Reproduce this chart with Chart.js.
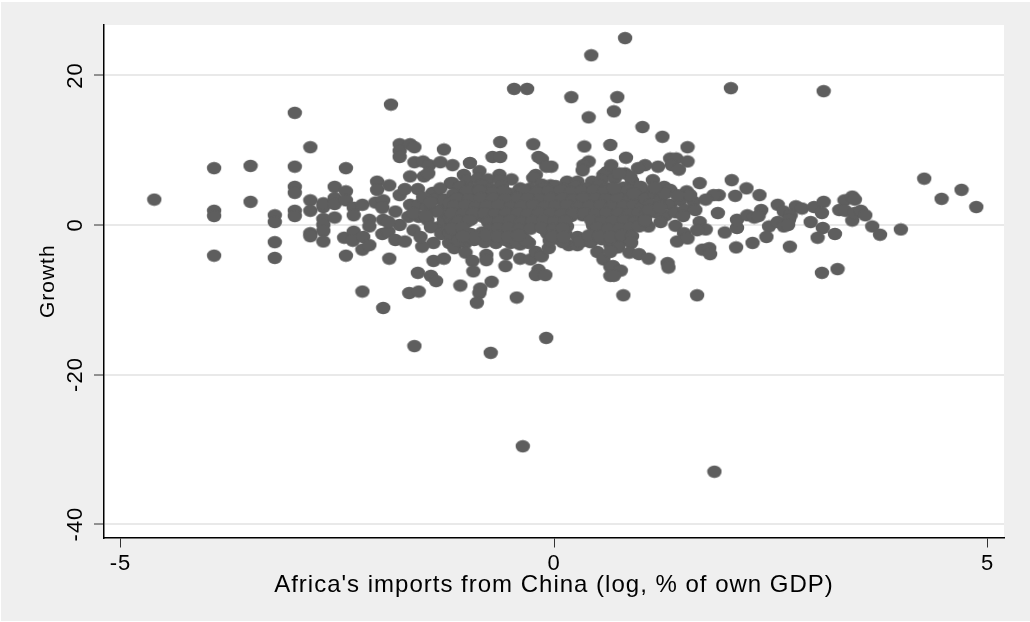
<!DOCTYPE html>
<html>
<head>
<meta charset="utf-8">
<script src="https://cdn.jsdelivr.net/npm/chart.js@4"></script>
<style>html,body{margin:0;padding:0;background:#fff}canvas{display:block}</style>
</head>
<body>
<canvas id="c" width="1030" height="622"></canvas>
<script>
const xTickValues = [-5, 0, 5];
const yTickValues = [-40, -20, 0, 20];
const xTitle = "Africa's imports from China (log, % of own GDP)";
const yTitle = "Growth";

const outliers = [[-4.61,3.4],[-0.46,18.2],[-0.31,18.2],[0.43,22.7],[0.82,25],[0.2,17.1],[0.73,17.1],[0.4,14.4],[0.69,15.2],[1.02,13.1],[1.25,11.8],[1.54,10.4],[2.04,18.3],[3.11,17.9],[-1.88,16.1],[-1.61,-16.2],[-0.09,-15.1],[-0.73,-17.1],[-0.36,-29.6],[1.85,-33],[4.0,-0.6],[4.27,6.2],[4.47,3.5],[4.7,4.7],[4.87,2.4],[0.8,-9.4],[1.65,-9.4]];

const leftCluster = [[-3.92,7.6],[-3.92,1.9],[-3.92,1.2],[-3.92,-4.1],[-3.5,7.9],[-3.5,3.1],[-3.22,1.3],[-3.22,0.4],[-3.22,-2.3],[-3.22,-4.4],[-2.99,15],[-2.99,7.8],[-2.99,5.1],[-2.99,4.3],[-2.99,1.9],[-2.99,1.2],[-2.81,10.4],[-2.81,3.3],[-2.81,1.9],[-2.81,-1.1],[-2.81,-1.5],[-2.66,2.4],[-2.66,2.9],[-2.66,0.8],[-2.66,0],[-2.66,-0.8],[-2.66,-2.2],[-2.53,5.1],[-2.53,3.6],[-2.53,2.8],[-2.53,1],[-2.4,7.6],[-2.4,4.5],[-2.4,3.3],[-2.4,-4.1],[-2.42,-1.7],[-2.31,2.3],[-2.31,1.3],[-2.31,-0.9],[-2.32,-2.1],[-2.21,2.7],[-2.21,-3.3],[-2.2,-1.6],[-2.13,-2.7],[-2.21,-8.9],[-2.13,0.7],[-2.13,-0.2],[-2.06,3],[-1.97,3.3],[-2.04,5.8],[-2.04,4.7],[-1.9,5.3],[-1.98,2.3],[-1.98,-1.2],[-1.91,-0.9],[-1.9,-4.5],[-1.83,1.8],[-1.83,-2],[-1.72,-2.2],[-1.78,0],[-1.97,0.7],[-1.91,0.4]];

const innerLeft = [[-1.78,10.8],[-1.78,9.9],[-1.78,9.1],[-1.66,10.8],[-1.61,10.4],[-1.61,8.4],[-1.51,8.5],[-1.44,8],[-1.31,8.4],[-1.27,10.1],[-1.66,6.5],[-1.5,6.5],[-1.45,6.9],[-1.78,4],[-1.72,4.8],[-1.57,4.8],[-1.66,2.7],[-1.67,-9.1],[-1.56,-8.9],[-1.97,-11.1],[-1.57,-6.4],[-1.42,-6.8],[-1.36,-7.5],[-1.39,-4.8],[-1.27,-4.5],[-1.39,-2.4],[-1.52,-2.9],[-1.21,-2.4],[-1.56,2.7],[-1.46,2.4],[-1.56,1.1],[-1.62,-0.7],[-1.54,-1.6],[-1.46,0.7],[-1.68,1.1],[-1.62,1.6],[-1.4,4.3],[-1.34,3.6],[-1.51,3.7],[-1.33,-0.3],[-1.42,-0.3],[-1.27,0.7],[-1.27,2.4],[-1.19,5.6],[-1.31,4.9],[-1.23,1.6],[-1.36,1.8],[-1.3,-1.2],[-1.22,-0.6],[-1.42,3],[-1.26,3.4],[-1.48,1.3]];

const centreTop = [[-0.97,8.3],[-0.86,7.2],[-1.04,6.7],[-1.17,8],[-1.17,5.6],[-0.62,11.1],[-0.71,9.1],[-0.62,9.1],[-0.24,10.8],[-0.18,9.1],[-0.14,8.8],[-0.03,7.8],[-0.09,7.8],[-0.21,6.7],[-0.24,6.3],[-0.63,6.7],[-0.49,6.1],[0.35,10.5],[0.4,8.5],[0.34,8],[0.33,7.3],[0.65,10.7],[-0.39,4.9],[-0.27,4.9],[-0.04,5.3],[0.15,5.8],[0.27,5.8],[0.44,5.8],[0.57,6.7],[0.61,7.1],[-1,5.9],[-0.88,6.2],[-0.76,6.1],[-0.62,5.9],[0.55,6],[0.7,6.2],[0.9,5.9],[-0.42,4.4],[-0.52,4.2],[-0.14,5.4]];

const centreBottom = [[-1.15,-3.1],[-1.02,-2.4],[-1.02,-3.7],[-0.94,-4.8],[-0.78,-4],[-0.78,-4.7],[-0.93,-6.2],[-0.55,-3.9],[-0.56,-5.5],[-0.67,-2.4],[-0.39,-4.5],[-0.27,-4.6],[-0.21,-3.6],[-0.14,-4.2],[-0.29,-2.4],[-0.18,-6],[-0.21,-6.7],[-0.1,-6.7],[-0.72,-7.6],[-1.08,-8.1],[-0.85,-8.5],[-0.86,-9.1],[-0.89,-10.4],[-0.43,-9.7],[-0.06,-3.1],[0.17,-2.7],[0.04,-1.8],[0.5,-3.6],[0.57,-4.6],[0.65,-5.6],[0.65,-6.8],[0.27,-1.6],[0.34,-2.1],[0.44,-1.7],[0.65,-2.7],[0.27,-2.7],[0.42,-2.3],[-0.5,-2.4],[-0.39,-2.6]];

const coreUpper = [[-1.08,5.1],[-0.96,4.9],[-0.84,5.3],[-0.72,4.8],[-0.6,5.2],[-0.12,4.9],[0.02,5.2],[0.12,4.8],[0.25,5.1],[0.36,4.9],[0.52,5.3],[0.62,4.9],[0.8,5],[0.98,4.7],[-1.16,4.1],[-1.03,3.8],[-0.91,4.2],[-0.77,3.9],[-0.64,4.1],[-0.53,3.7],[-0.38,4],[-0.25,3.7],[-0.13,4.1],[0,3.8],[0.13,4.1],[0.26,3.7],[0.38,4],[0.51,3.8],[0.65,4.2],[0.79,3.9],[0.93,3.6],[-1.2,2.9],[-1.09,3.2],[-0.97,2.8],[-0.85,3.1],[-0.71,2.9],[-0.59,3.2],[-0.46,2.8],[-0.33,3],[-0.2,2.7],[-0.08,3.1],[0.06,2.9],[0.18,3.2],[0.31,2.8],[0.44,3],[0.58,2.7],[0.7,3.1],[0.83,2.8],[0.96,2.9]];

const coreLower = [[-1.13,1.9],[-1.01,2.2],[-0.89,1.8],[-0.76,2.1],[-0.65,1.7],[-0.52,2],[-0.4,1.8],[-0.27,2.1],[-0.14,1.7],[-0.02,2],[0.11,1.8],[0.24,2.1],[0.37,1.7],[0.5,2],[0.63,1.8],[0.76,2],[0.89,1.7],[-1.19,0.9],[-1.06,1.2],[-0.95,0.8],[-0.82,1.1],[-0.69,0.9],[-0.57,1.2],[-0.44,0.8],[-0.31,1],[-0.18,0.8],[-0.05,1.1],[0.08,0.9],[0.2,1.2],[0.33,1.3],[0.46,0.9],[0.59,1.1],[0.72,0.8],[0.85,1],[0.97,1.3],[-1.14,-0.1],[-1.03,0.2],[-0.7,0.1],[-0.58,-0.2],[-0.46,0.1],[-0.33,-0.2],[-0.2,0.1],[-0.07,-0.2],[0.06,0.1],[0.15,-0.2],[0.45,-0.1],[0.58,0.2],[0.71,-0.1],[0.84,0.1],[-1.2,-1.1],[-1.08,-0.8],[-0.96,-1.2],[-0.83,-1],[-0.72,-1.3],[-0.6,-0.9],[-0.48,-1.2],[-0.36,-0.9],[-0.08,-1.1],[0.05,-0.9],[0.13,-1.2],[0.47,-1.1],[0.6,-0.9],[0.72,-1.2],[0.85,-0.9],[-1.1,-2.1],[-0.92,-2],[-0.8,-2.3],[-0.56,-2],[-0.43,-2.3],[-0.33,-2],[-0.05,-2.1],[0.1,-2.3],[0.3,-2.2],[0.43,-2.2],[0.55,-1.9],[0.68,-2.2],[0.8,-2]];

const coreHalfUpper = [[-1,4.5],[-0.86,4.6],[-0.7,4.4],[-0.58,4.5],[-0.34,4.6],[-0.2,4.4],[-0.06,4.5],[0.08,4.6],[0.2,4.4],[0.32,4.5],[0.46,4.6],[0.58,4.4],[0.72,4.5],[0.86,4.6],[1,4.4],[1.12,4.5],[-1.12,3.5],[-0.98,3.4],[-0.84,3.6],[-0.7,3.5],[-0.56,3.4],[-0.42,3.6],[-0.3,3.5],[-0.16,3.4],[-0.04,3.6],[0.1,3.5],[0.22,3.4],[0.34,3.6],[0.48,3.5],[0.6,3.4],[0.74,3.6],[0.88,3.5],[1,3.3],[-1.15,2.5],[-1.02,2.6],[-0.9,2.4],[-0.78,2.5],[-0.64,2.6],[-0.5,2.4],[-0.38,2.5],[-0.24,2.6],[-0.11,2.4],[0.02,2.5],[0.15,2.6],[0.28,2.4],[0.41,2.5],[0.54,2.6],[0.66,2.4],[0.8,2.5],[0.92,2.6],[1.02,2.4]];

const coreHalfLower = [[-1.18,1.5],[-1.05,1.4],[-0.93,1.6],[-0.8,1.5],[-0.68,1.4],[-0.55,1.6],[-0.42,1.5],[-0.3,1.4],[-0.17,1.6],[-0.04,1.5],[0.09,1.4],[0.22,1.6],[0.35,1.5],[0.48,1.4],[0.61,1.6],[0.74,1.5],[0.87,1.4],[0.98,1.6],[-1.1,0.5],[-0.98,0.6],[-0.76,0.4],[-0.63,0.5],[-0.5,0.6],[-0.38,0.4],[-0.25,0.5],[-0.12,0.6],[0.01,0.4],[0.13,0.5],[0.43,0.6],[0.55,0.4],[0.68,0.5],[0.81,0.6],[0.93,0.4],[-1.18,-0.5],[-1.06,-0.4],[-0.74,-0.6],[-0.64,-0.5],[-0.52,-0.4],[-0.4,-0.6],[-0.27,-0.5],[-0.14,-0.4],[-0.01,-0.6],[0.1,-0.5],[0.5,-0.4],[0.63,-0.6],[0.76,-0.5],[0.88,-0.4],[-1.05,-1.5],[-0.9,-1.6],[-0.78,-1.4],[-0.65,-1.5],[-0.53,-1.6],[-0.41,-1.4],[-0.02,-1.5],[0.11,-1.6],[0.4,-1.4],[0.52,-1.5],[0.65,-1.6],[0.78,-1.4],[0.9,-1.5]];

const rightInner = [[0.83,9],[1.34,8.9],[1.41,8.9],[1.54,8.5],[1.36,8],[1.44,7.4],[1.2,7.8],[1.05,8],[0.97,7.6],[0.66,8],[0.82,6.9],[0.88,6.5],[0.75,6.9],[1.14,6],[1,5.1],[1.27,5.1],[1.34,4.7],[1.53,4.5],[1.61,3.1],[0.69,4.9],[0.92,4.2],[1.06,3.5],[1.17,4.1],[1.11,2.7],[1.23,3.3],[1.34,2.7],[1.46,3.3],[1.57,4],[1.06,1.3],[1.17,1.7],[1.29,1.3],[1.4,1.7],[1.51,2],[1.63,2],[1.23,0.4],[1.49,1.2],[1.09,-0.2],[0.98,-0.2],[1.4,-0.1],[0.89,-2.4],[0.74,-3],[0.65,-3.6],[0.87,-3.7],[0.98,-3.9],[1.09,-4.5],[0.68,-5.5],[0.77,-6.1],[0.69,-6.8],[1.31,-5.1],[1.32,-5.7],[1.1,2],[1.22,2.4],[1.28,4.2],[1.42,4],[1.16,5],[1.05,0.6]];

const rightOuter = [[1.68,5.6],[2.05,6],[2.22,4.9],[2.09,3.9],[2.37,4],[1.9,4],[1.84,4],[1.75,3.4],[1.89,1.6],[1.68,0.4],[1.75,-0.6],[1.65,-0.7],[1.5,-1.1],[1.42,-2.2],[1.54,-1.8],[1.97,-1],[2.11,-0.4],[2.11,0.7],[2.23,1.3],[2.31,1],[2.39,2],[2.36,1.2],[2.48,-0.2],[2.45,-1.6],[2.29,-2.4],[2.1,-3],[1.71,-3.3],[1.79,-3.1],[1.8,-3.9],[2.58,0.4],[2.58,2.7],[2.65,1.8],[2.79,2.5],[2.86,2.2],[2.73,1.3],[2.71,0.7],[2.65,-0.2],[2.7,0],[2.72,-2.9],[3,2.4],[3.11,3.1],[3.09,1.6],[2.96,0.4],[3.1,-0.4],[3.24,-1.2],[3.04,-1.7],[3.09,-6.4],[3.27,-5.9],[3.35,3.3],[3.44,3.8],[3.47,3.4],[3.29,2],[3.36,1.9],[3.44,0.6],[3.47,1.6],[3.54,1.9],[3.59,1.3],[3.67,-0.2],[3.76,-1.3]];

const points = [outliers, leftCluster, innerLeft, centreTop, centreBottom, coreUpper, coreLower, coreHalfUpper, coreHalfLower, rightInner, rightOuter]
  .flat().map(p => ({x: p[0], y: p[1]}));

const marker = document.createElement('canvas');
marker.width = 16; marker.height = 14;
const mctx = marker.getContext('2d');
mctx.fillStyle = '#5e5e5e';
mctx.beginPath();
mctx.ellipse(8, 7, 7.2, 6.2, 0, 0, Math.PI * 2);
mctx.fill();

const backdrop = {
  id: 'backdrop',
  beforeDraw(chart) {
    const {ctx, chartArea: a} = chart;
    ctx.fillStyle = '#efefef';
    ctx.fillRect(1, 2, 1029, 619);
    ctx.fillStyle = '#ffffff';
    ctx.fillRect(a.left, a.top, a.right - a.left, a.bottom - a.top);
    ctx.letterSpacing = '1px';
  }
};

const FONT = 'Liberation Sans, Arial, sans-serif';

new Chart(document.getElementById('c'), {
  type: 'scatter',
  plugins: [backdrop],
  data: { datasets: [{ data: points, pointStyle: marker, pointRadius: 6, pointHoverRadius: 6, clip: false }] },
  options: {
    responsive: false,
    animation: false,
    events: [],
    layout: { padding: { top: 25, right: 26, left: 0, bottom: 0 } },
    plugins: { legend: { display: false }, tooltip: { enabled: false } },
    scales: {
      x: {
        type: 'linear', min: -5.19, max: 5.19,
        afterBuildTicks(s) { s.ticks = xTickValues.map(v => ({value: v})); },
        afterFit(s) { s.height = 84.5; },
        grid: { drawOnChartArea: false, drawTicks: true, tickLength: 10, tickColor: '#333333', tickWidth: 1 },
        border: { display: true, color: '#000000', width: 1.5 },
        ticks: { color: '#000000', font: { family: FONT, size: 22 }, padding: 3, maxRotation: 0, autoSkip: false },
        title: { display: true, text: xTitle, color: '#000000', font: { family: FONT, size: 24 }, padding: { top: 0, bottom: 22 } }
      },
      y: {
        type: 'linear', min: -41.8, max: 26.75,
        afterBuildTicks(s) { s.ticks = yTickValues.map(v => ({value: v})); },
        afterFit(s) { s.width = 104; },
        grid: { color: '#e9e9e9', lineWidth: 2, drawTicks: true, tickLength: 10, tickColor: '#333333', tickWidth: 1 },
        border: { display: true, color: '#000000', width: 1.5 },
        ticks: { color: '#000000', font: { family: FONT, size: 22 }, padding: 2, minRotation: 90, maxRotation: 90, crossAlign: 'center', autoSkip: false },
        title: { display: true, text: yTitle, color: '#000000', font: { family: FONT, size: 21 }, padding: { top: 36, bottom: 0 } }
      }
    }
  }
});
</script>
</body>
</html>
